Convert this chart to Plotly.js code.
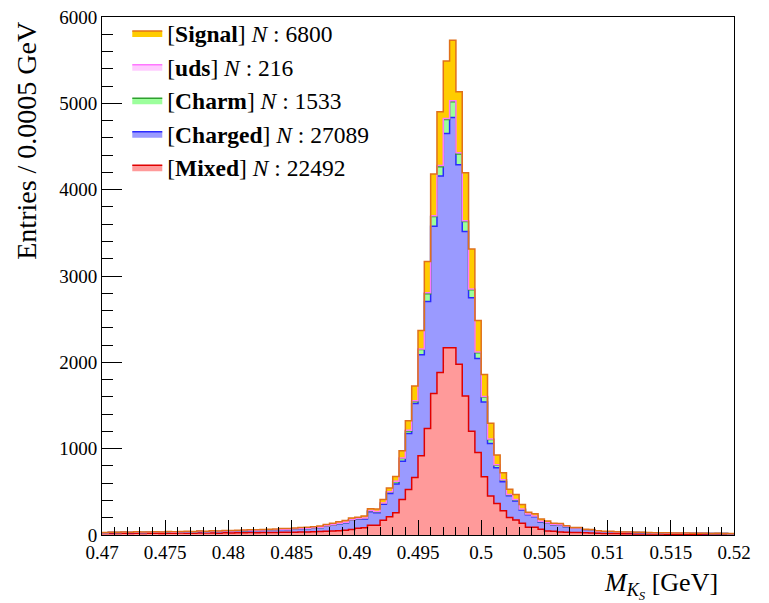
<!DOCTYPE html>
<html>
<head>
<meta charset="utf-8">
<script src="https://cdn.plot.ly/plotly-3.0.1.min.js"></script>
<style>html,body{margin:0;padding:0;background:#fff;}#chart{width:769px;height:603px;}</style>
</head>
<body>
<div id="chart"></div>
<script>
// Histogram: 100 bins of 0.0005 GeV from 0.47 to 0.52
var binLow = 0.47;
var binWidth = 0.0005;

var mixed = [16,18,17,19,18,20,17,19,21,18, 20,19,22,21,20,23,22,24,21,25,
  24,26,25,28,27,29,30,28,32,31, 33,35,34,38,40,42,46,50,56,65,
  77,85,112,112,170,212,258,412,528,667, 917,1233,1638,1881,2170,2170,1977,1611,1202,956,
  674,451,366,281,204,173,135,89,89,66, 46,42,35,32,30,28,25,22,20,18,
  17,16,15,14,13,12,12,11,11,10, 10,10,9,9,9,8,8,8,7,7];

var charged = [10,12,11,13,12,14,12,13,15,14, 15,14,16,17,16,18,17,19,20,19,
  21,22,24,25,24,27,28,30,32,31, 35,38,40,42,46,60,68,80,85,105,
  104,100,158,146,185,270,332,443,647,855, 1170,1472,1938,2277,2481,2666,2312,1903,1546,1089,
  867,609,412,335,251,222,154,146,123,86, 89,74,81,64,47,49,33,36,22,20,
  19,18,17,16,15,15,14,13,13,12, 12,11,11,10,10,10,9,9,9,8];

var charm = [0,1,0,0,1,0,0,1,0,0, 1,0,0,1,0,1,0,1,0,1,
  1,0,1,1,0,1,1,1,2,1, 2,1,2,2,2,3,3,3,4,5,
  6,8,10,10,12,15,26,31,31,25, 62,89,112,108,162,181,123,116,92,66,
  58,46,31,20,12,12,8,7,6,5, 4,4,3,3,2,2,2,1,1,1,
  1,1,0,1,0,1,0,0,1,0, 0,1,0,0,0,1,0,0,0,0];

var uds = [0,0,1,0,0,0,1,0,0,0, 1,0,0,0,1,0,0,1,0,0,
  1,0,1,0,1,0,1,1,0,1, 1,1,1,2,1,2,2,2,3,3,
  3,3,4,4,5,5,6,6,7,8, 6,12,11,15,11,12,16,10,10,8,
  6,5,4,4,3,3,3,2,2,2, 2,1,1,1,1,1,1,1,1,0,
  1,0,1,0,0,1,0,0,0,1, 0,0,0,1,0,0,0,1,0,0];

var signal = [3,2,4,3,2,3,4,3,2,4, 3,4,3,5,4,3,5,4,5,6,
  5,6,7,6,8,7,8,9,8,10, 10,11,12,13,14,15,17,18,20,18,
  15,25,20,30,38,42,56,83,110,170, 214,362,482,621,667,702,705,557,464,366,
  255,183,114,82,60,59,52,20,25,25, 22,15,12,8,8,6,6,5,5,4,
  4,4,3,3,3,3,2,3,2,2, 2,2,2,1,2,1,1,1,1,1];

var names = ['[<b>Mixed</b>] <i>N</i> : 22492', '[<b>Charged</b>] <i>N</i> : 27089',
  '[<b>Charm</b>] <i>N</i> : 1533', '[<b>uds</b>] <i>N</i> : 216', '[<b>Signal</b>] <i>N</i> : 6800'];
var series = [mixed, charged, charm, uds, signal];
var lineColors = ['#e00000', '#2a2aff', '#2fa02f', '#ff77ff', '#e0701a'];
var fillColors = ['#ff9a9a', '#9a9aff', '#9cff9c', '#ffccff', '#ffcc00'];

var edges = [];
for (var i = 0; i <= mixed.length; i++) edges.push(binLow + i * binWidth);

var traces = series.map(function (vals, k) {
  var y = vals.slice(); y.push(vals[vals.length - 1]);
  return {
    type: 'scatter', mode: 'lines', x: edges, y: y,
    stackgroup: 'one', name: names[k], legendgroup: 'g' + k,
    line: {shape: 'hv', color: lineColors[k], width: 1.5},
    fillcolor: fillColors[k], hoverinfo: 'skip'
  };
});

var fam = "'Liberation Serif', 'Times New Roman', serif";
var font = {family: fam, size: 19, color: '#000'};

var layout = {
  width: 769, height: 603,
  margin: {l: 102, r: 35, t: 16, b: 68},
  paper_bgcolor: '#fff', plot_bgcolor: '#fff',
  font: font,
  showlegend: true,
  legend: {x: 0.04, y: 1.009, xanchor: 'left', yanchor: 'top', traceorder: 'reversed',
    bgcolor: 'rgba(0,0,0,0)', font: {family: fam, size: 23.5, color: '#000'}, tracegroupgap: 4, itemwidth: 30},
  xaxis: {range: [0.47, 0.52], dtick: 0.005, tick0: 0.47, ticks: 'inside', ticklen: 15,
    tickcolor: '#000', tickwidth: 1, showgrid: false, zeroline: false,
    showline: true, linecolor: '#000', linewidth: 1, mirror: true,
    minor: {dtick: 0.001, ticks: 'inside', ticklen: 8, tickcolor: '#000', showgrid: false},
    tickfont: font},
  yaxis: {range: [0, 6000], dtick: 1000, ticks: 'inside', ticklen: 20,
    tickcolor: '#000', tickwidth: 1, showgrid: false, zeroline: false,
    showline: true, linecolor: '#000', linewidth: 1, mirror: true,
    minor: {dtick: 200, ticks: 'inside', ticklen: 11, tickcolor: '#000', showgrid: false},
    tickfont: font},
  annotations: [
    {text: 'Entries / 0.0005 GeV', xref: 'paper', yref: 'paper', x: -0.12, y: 0.995,
      xanchor: 'center', yanchor: 'top', textangle: -90, showarrow: false,
      font: {family: fam, size: 28, color: '#000'}},
    {text: '<i>M</i><sub><i>K<sub>S</sub></i></sub> [GeV]', xref: 'paper', yref: 'paper', x: 0.978, y: -0.098,
      xanchor: 'right', yanchor: 'middle', showarrow: false,
      font: {family: fam, size: 26, color: '#000'}}
  ]
};

Plotly.newPlot('chart', traces, layout, {displayModeBar: false, staticPlot: true});
</script>
</body>
</html>
